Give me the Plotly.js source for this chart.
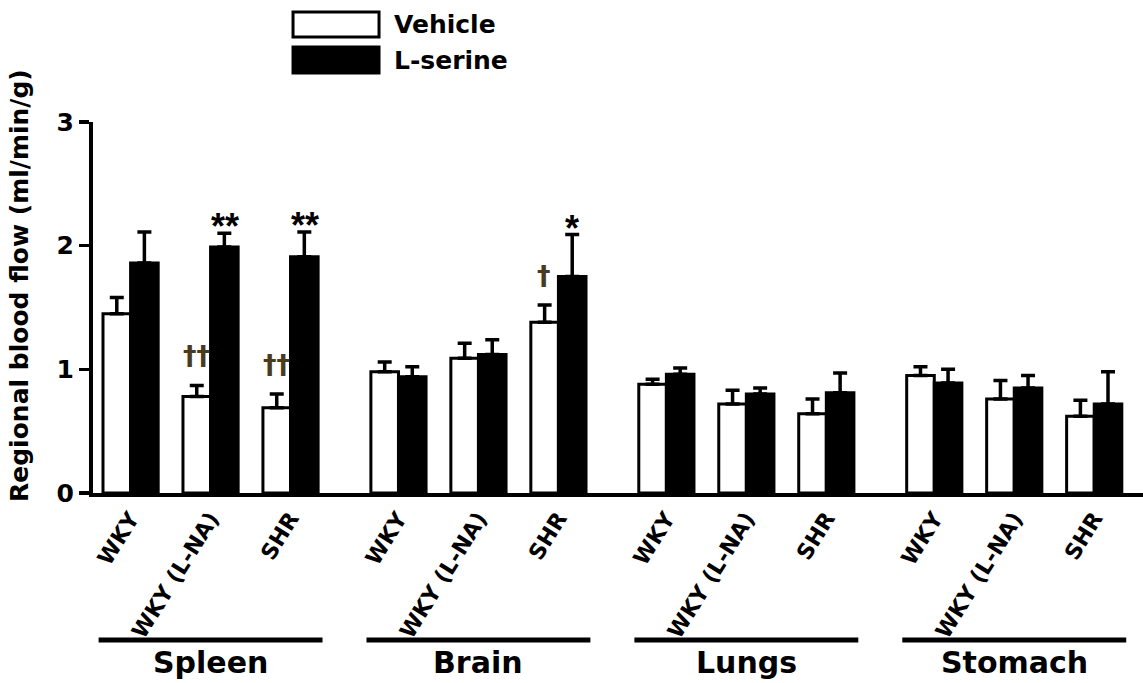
<!DOCTYPE html>
<html>
<head>
<meta charset="utf-8">
<script src="https://cdn.plot.ly/plotly-3.0.1.min.js"></script>
<style>html,body{margin:0;padding:0;background:#fff;}#chart{width:1143px;height:683px;}</style>
</head>
<body>
<div id="chart"></div>
<script>
// ---- data ----
const organs = ['Spleen', 'Brain', 'Lungs', 'Stomach'];
const strains = ['WKY', 'WKY (L-NA)', 'SHR'];
const seriesNames = ['Vehicle', 'L-serine'];
const vehicleMean = [1.45, 0.78, 0.69, 0.98, 1.09, 1.38, 0.88, 0.72, 0.64, 0.95, 0.76, 0.62];
const vehicleSem  = [0.13, 0.09, 0.11, 0.08, 0.12, 0.14, 0.04, 0.11, 0.12, 0.07, 0.15, 0.13];
const serineMean  = [1.86, 1.99, 1.91, 0.94, 1.12, 1.75, 0.96, 0.80, 0.81, 0.89, 0.85, 0.72];
const serineSem   = [0.25, 0.11, 0.20, 0.08, 0.12, 0.34, 0.05, 0.05, 0.16, 0.11, 0.10, 0.26];
const vehicleMarks = ['', '††', '††', '', '', '†', '', '', '', '', '', ''];
const serineMarks  = ['', '**', '**', '', '', '*', '', '', '', '', '', ''];
const yTitle = 'Regional blood flow (ml/min/g)';

// ---- layout helpers ----
const FONT = '"DejaVu Sans", Arial, sans-serif';
const FONT_ARIAL = 'Arial, "Liberation Sans", sans-serif';
const GROUP_STEP = 3.35;
const HALF = 0.175;
const pos = [];
const labels = [];
organs.forEach((o, g) => strains.forEach((s, i) => { pos.push(g * GROUP_STEP + i); labels.push(s); }));

const traces = [
  {
    type: 'bar', x: pos, y: vehicleMean, name: seriesNames[0], showlegend: false, hoverinfo: 'y',
    marker: {color: '#fff', line: {color: '#000', width: 3}},
    error_y: {type: 'data', symmetric: false, array: vehicleSem, arrayminus: vehicleSem.map(() => 0),
              color: '#000', thickness: 3.5, width: 7}
  },
  {
    type: 'bar', x: pos, y: serineMean, name: seriesNames[1], showlegend: false, hoverinfo: 'y',
    marker: {color: '#000', line: {color: '#000', width: 3}},
    error_y: {type: 'data', symmetric: false, array: serineSem, arrayminus: serineSem.map(() => 0),
              color: '#000', thickness: 3.5, width: 7}
  }
];

const annotations = [];
const shapes = [];
// significance marks
pos.forEach((p, k) => {
  if (serineMarks[k]) annotations.push({
    x: p + HALF, y: serineMean[k] + serineSem[k], xref: 'x', yref: 'y',
    text: serineMarks[k], showarrow: false, yanchor: 'bottom', yshift: -16,
    font: {family: FONT_ARIAL, size: 36, color: '#000', weight: 'bold'}
  });
  if (vehicleMarks[k]) annotations.push({
    x: p - HALF, y: vehicleMean[k] + vehicleSem[k], xref: 'x', yref: 'y',
    text: vehicleMarks[k], showarrow: false, yanchor: 'bottom', yshift: 12,
    font: {family: FONT, size: 27, color: '#4a3a1e', weight: 'bold'}
  });
});
// organ group lines + labels
organs.forEach((o, g) => {
  const start = g * GROUP_STEP;
  shapes.push({type: 'line', xref: 'x', yref: 'paper', x0: start - 0.4, x1: start + 2.4,
               y0: -0.396, y1: -0.396, line: {color: '#000', width: 5}});
  annotations.push({x: start + 1, y: -0.458, xref: 'x', yref: 'paper', text: o, showarrow: false,
                    xanchor: 'center', yanchor: 'middle',
                    font: {family: FONT, size: 30, color: '#000', weight: 'bold'}});
});
// legend (drawn manually)
const legendFill = ['#fff', '#000'];
const legendY = [[1.229, 1.2965], [1.132, 1.202]];
seriesNames.forEach((n, i) => {
  shapes.push({type: 'rect', xref: 'paper', yref: 'paper', x0: 0.1905, x1: 0.2724,
               y0: legendY[i][0], y1: legendY[i][1], fillcolor: legendFill[i],
               line: {color: '#000', width: 3}});
  annotations.push({x: 0.2848, y: (legendY[i][0] + legendY[i][1]) / 2, xref: 'paper', yref: 'paper',
                    text: n, showarrow: false, xanchor: 'left', yanchor: 'middle',
                    font: {family: FONT, size: 25, color: '#000', weight: 'bold'}});
});
// y title
annotations.push({x: -0.0695, y: 0.558, xref: 'paper', yref: 'paper', text: yTitle, textangle: -90,
                  showarrow: false, xanchor: 'center', yanchor: 'middle',
                  font: {family: FONT, size: 25, color: '#000', weight: 'bold'}});

const layout = {
  width: 1143, height: 683,
  margin: {l: 93, r: 0, t: 122, b: 190, pad: 0},
  paper_bgcolor: '#fff', plot_bgcolor: '#fff',
  barmode: 'group', bargap: 0.31, bargroupgap: 0,
  showlegend: false,
  font: {family: FONT, color: '#000'},
  xaxis: {
    range: [-0.47, 12.66], showline: true, linewidth: 4, linecolor: '#000',
    showgrid: false, zeroline: false, ticks: '', tickvals: pos, ticktext: labels,
    tickangle: -58, tickfont: {family: FONT, size: 22, color: '#000', weight: 'bold'}
  },
  yaxis: {
    range: [0, 3], dtick: 1, showline: true, linewidth: 4, linecolor: '#000',
    showgrid: false, zeroline: false, ticks: 'outside', ticklen: 10, tickwidth: 3.5,
    tickcolor: '#000', tickfont: {family: FONT, size: 25, color: '#000', weight: 'bold'}
  },
  shapes: shapes, annotations: annotations
};

Plotly.newPlot('chart', traces, layout, {staticPlot: true, displayModeBar: false});
</script>
</body>
</html>
